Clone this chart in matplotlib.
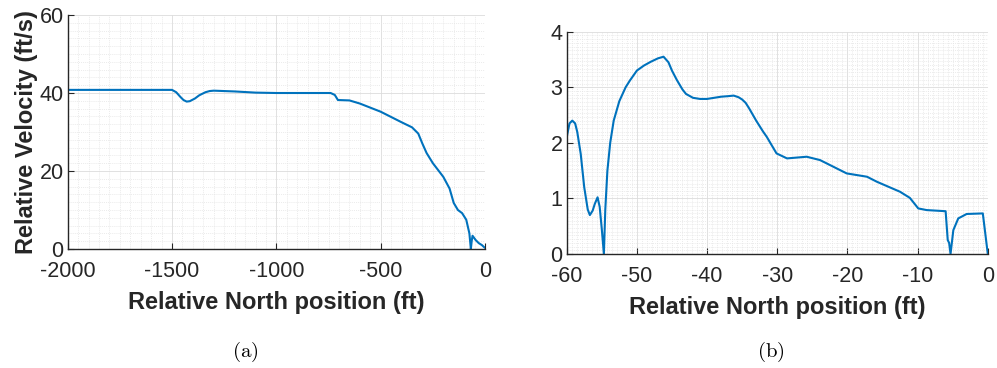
import matplotlib
matplotlib.use("Agg")
import matplotlib.pyplot as plt
from matplotlib.ticker import MultipleLocator, AutoMinorLocator

plt.rcParams["font.family"] = ["Liberation Sans", "DejaVu Sans"]
plt.rcParams["mathtext.fontset"] = "cm"
plt.rcParams["axes.unicode_minus"] = False

line_color = "#0072BD"
axis_color = "#262626"

# (a) full approach
north_a = [-2000, -1500, -1480, -1460, -1445, -1430, -1415, -1390, -1370, -1340,
           -1320, -1300, -1200, -1100, -1000, -740, -720, -705, -650, -600,
           -500, -400, -350, -320, -300, -280, -250, -200, -170, -150, -130,
           -110, -90, -75, -68, -64, -60, -45, -30, -15, -5, 0]
vel_a = [40.8, 40.8, 40.2, 39.0, 38.2, 37.8, 37.9, 38.6, 39.4, 40.2,
         40.5, 40.6, 40.4, 40.1, 40.0, 40.0, 39.5, 38.2, 38.1, 37.3,
         35.2, 32.5, 31.2, 29.6, 27.0, 24.6, 22.0, 18.5, 15.5, 11.8, 10.0,
         9.2, 7.5, 4.0, 0.0, 2.0, 3.4, 2.3, 1.5, 1.0, 0.5, 0.3]

# (b) last 60 ft
north_b = [-60, -59.6, -59.2, -58.8, -58.5, -58, -57.5, -57, -56.7, -56.3, -56,
           -55.6, -55.3, -55.0, -54.7, -54.5, -54.2, -53.8, -53.3, -52.5, -51.6,
           -51, -50, -49, -48, -47, -46.2, -45.5, -45, -44.3, -43.5, -43, -42,
           -41, -40, -39, -38, -37, -36.2, -35.5, -35, -34.5, -34, -33, -32,
           -31.5, -30.1, -28.6, -25.8, -23.9, -20.1, -17.2, -15.8, -12.5,
           -11.1, -9.9, -8.7, -6.0, -5.7, -5.5, -5.3, -4.9, -4.2, -3.0, -0.7, 0]
vel_b = [2.1, 2.35, 2.4, 2.35, 2.2, 1.8, 1.2, 0.8, 0.7, 0.78, 0.9,
         1.02, 0.85, 0.45, 0.0, 0.8, 1.5, 2.0, 2.4, 2.75, 3.0,
         3.12, 3.3, 3.39, 3.46, 3.52, 3.55, 3.45, 3.3, 3.13, 2.96, 2.88, 2.81,
         2.79, 2.79, 2.81, 2.83, 2.84, 2.85, 2.82, 2.78, 2.72, 2.62, 2.4, 2.2,
         2.11, 1.81, 1.72, 1.75, 1.69, 1.45, 1.39, 1.30, 1.12,
         1.01, 0.82, 0.79, 0.77, 0.25, 0.2, 0.0, 0.43, 0.64, 0.72, 0.73, 0.01]

fig = plt.figure(figsize=(9.97, 3.68), dpi=100)
ax_a = fig.add_axes([0.0679, 0.3234, 0.4186, 0.6358])
ax_b = fig.add_axes([0.5684, 0.3098, 0.4223, 0.6041])


def style_axes(ax, xstep, ystep, xminor, yminor):
    ax.xaxis.set_major_locator(MultipleLocator(xstep))
    ax.yaxis.set_major_locator(MultipleLocator(ystep))
    ax.xaxis.set_minor_locator(AutoMinorLocator(xminor))
    ax.yaxis.set_minor_locator(AutoMinorLocator(yminor))
    ax.grid(which="major", color="#dcdcdc", linewidth=0.6)
    ax.grid(which="minor", color="#e4e4e4", linewidth=0.5, linestyle=(0, (1.5, 1.5)))
    ax.set_axisbelow(True)
    for side in ("top", "right"):
        ax.spines[side].set_visible(False)
    for side in ("left", "bottom"):
        ax.spines[side].set_color(axis_color)
        ax.spines[side].set_linewidth(1.0)
    ax.tick_params(which="major", direction="in", length=4, width=0.8,
                   colors=axis_color, labelsize=15.5)
    ax.tick_params(axis="x", pad=9)
    ax.tick_params(axis="y", pad=3)
    ax.tick_params(which="minor", length=0)


ax_a.plot(north_a, vel_a, color=line_color, linewidth=1.5)
ax_a.set_xlim(-2000, 0)
ax_a.set_ylim(0, 60)
style_axes(ax_a, 500, 20, 10, 10)
ax_a.set_xlabel("Relative North position (ft)", fontsize=17,
                fontweight="bold", color=axis_color, labelpad=6)
ax_a.set_ylabel("Relative Velocity (ft/s)", fontsize=17,
                fontweight="bold", color=axis_color, labelpad=1)

ax_b.plot(north_b, vel_b, color=line_color, linewidth=1.5)
ax_b.set_xlim(-60, 0)
ax_b.set_ylim(0, 4)
style_axes(ax_b, 10, 1, 14, 15)
ax_b.set_xlabel("Relative North position (ft)", fontsize=17,
                fontweight="bold", color=axis_color, labelpad=6)

fig.text(0.246, 0.045, r"$\mathrm{(a)}$", ha="center", va="center", fontsize=15)
fig.text(0.773, 0.045, r"$\mathrm{(b)}$", ha="center", va="center", fontsize=15)

fig.savefig("out.png", dpi=100)
